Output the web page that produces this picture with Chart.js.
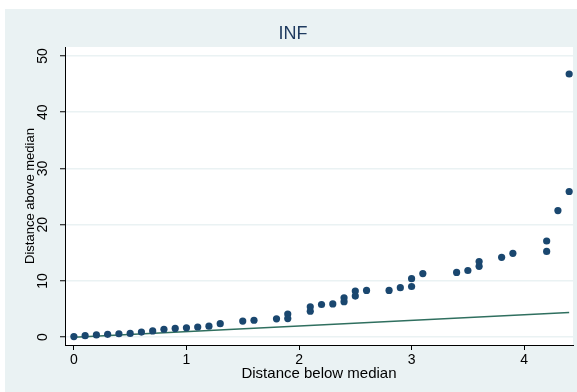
<!DOCTYPE html>
<html>
<head>
<meta charset="utf-8">
<script src="https://cdn.jsdelivr.net/npm/chart.js@4"></script>
<style>
  html, body { margin: 0; padding: 0; background: #fff; }
  #wrap { width: 577px; height: 392px; }
</style>
</head>
<body>
<div id="wrap"><canvas id="my-chart" width="577" height="392"></canvas></div>
<script>
const title = "INF"
const xTitle = "Distance below median"
const yTitle = "Distance above median"

// distance below / above the median
const belowMedian = [0, 0.1, 0.2, 0.3, 0.4, 0.5, 0.6, 0.7, 0.8, 0.9, 1.0, 1.1, 1.2, 1.3, 1.5, 1.6, 1.8, 1.9, 1.9,
  2.1, 2.1, 2.2, 2.3, 2.4, 2.4, 2.5, 2.5, 2.6, 2.8, 2.9, 3.0, 3.0, 3.1, 3.4, 3.5, 3.6, 3.6, 3.8, 3.9,
  4.2, 4.2, 4.3, 4.4, 4.4]
const aboveMedian = [0.1, 0.25, 0.4, 0.5, 0.6, 0.65, 0.9, 1.1, 1.4, 1.55, 1.65, 1.8, 1.95, 2.4, 2.85, 3.0, 3.25, 4.1, 3.3,
  5.4, 4.6, 5.8, 5.9, 7.0, 6.3, 8.2, 7.3, 8.3, 8.3, 8.8, 10.4, 9.0, 11.3, 11.5, 11.85, 13.45, 12.6, 14.2, 14.9,
  17.1, 15.25, 22.5, 25.9, 46.8]

// reference line y = x
const lineX = [0, 4.4]
const lineY = [0, 4.4]

const xTicks = [0, 1, 2, 3, 4]
const yTicks = [0, 10, 20, 30, 40, 50]

const bg = '#eaf2f3'

const backdrop = {
  id: 'backdrop',
  beforeDraw(chart) {
    const {ctx, width, height, chartArea} = chart
    ctx.save()
    ctx.fillStyle = '#fff'
    ctx.fillRect(0, 0, width, height)
    ctx.fillStyle = bg
    ctx.fillRect(5, 9, width - 5, height - 9)
    ctx.fillStyle = '#fff'
    ctx.fillRect(chartArea.left, chartArea.top, chartArea.right - chartArea.left, chartArea.bottom - chartArea.top)
    ctx.fillStyle = '#1e3a5f'
    ctx.font = '18px "Liberation Sans", Arial, sans-serif'
    ctx.textAlign = 'center'
    ctx.textBaseline = 'middle'
    ctx.fillText(title, 293, 34)
    ctx.restore()
  }
}

const ctx = document.getElementById('my-chart').getContext('2d')
const chart = new Chart(ctx, {
  type: 'scatter',
  data: {
    datasets: [
      {
        data: belowMedian.map((x, i) => ({x: x, y: aboveMedian[i]})),
        backgroundColor: '#1a476f',
        borderColor: '#1a476f',
        pointRadius: 3.6,
        borderWidth: 0
      },
      {
        type: 'line',
        data: lineX.map((x, i) => ({x: x, y: lineY[i]})),
        borderColor: '#2f6f5f',
        borderWidth: 1.5,
        pointRadius: 0,
        fill: false
      }
    ]
  },
  options: {
    responsive: false,
    animation: false,
    layout: {padding: {left: 5, top: 47, right: 0, bottom: 0}},
    plugins: {
      legend: {display: false},
      tooltip: {enabled: false},
      title: {display: false}
    },
    scales: {
      x: {
        type: 'linear',
        min: -0.079,
        max: 4.434,
        afterBuildTicks: (axis) => { axis.ticks = xTicks.map(v => ({value: v})) },
        afterFit: (axis) => { axis.height = 47 },
        border: {color: '#000', width: 1},
        grid: {drawOnChartArea: false, tickLength: 5, tickColor: '#000', tickWidth: 1},
        ticks: {color: '#000', padding: 2, font: {family: '"Liberation Sans", Arial', size: 14}},
        title: {
          display: true, text: xTitle, color: '#000',
          font: {family: '"Liberation Sans", Arial', size: 15},
          padding: {top: 0, bottom: 9}
        }
      },
      y: {
        type: 'linear',
        min: -1.4,
        max: 51.6,
        afterBuildTicks: (axis) => { axis.ticks = yTicks.map(v => ({value: v})) },
        afterFit: (axis) => { axis.width = 60 },
        border: {color: '#000', width: 1},
        grid: {color: bg, lineWidth: 1.5, tickLength: 5, tickColor: '#000', tickWidth: 1},
        ticks: {
          color: '#000', padding: 9, minRotation: 90, maxRotation: 90, crossAlign: 'center',
          font: {family: '"Liberation Sans", Arial', size: 14}
        },
        title: {
          display: true, text: yTitle, color: '#000',
          font: {family: '"Liberation Sans", Arial', size: 13},
          padding: {top: 18, bottom: 0}
        }
      }
    }
  },
  plugins: [backdrop]
})
</script>
</body>
</html>
